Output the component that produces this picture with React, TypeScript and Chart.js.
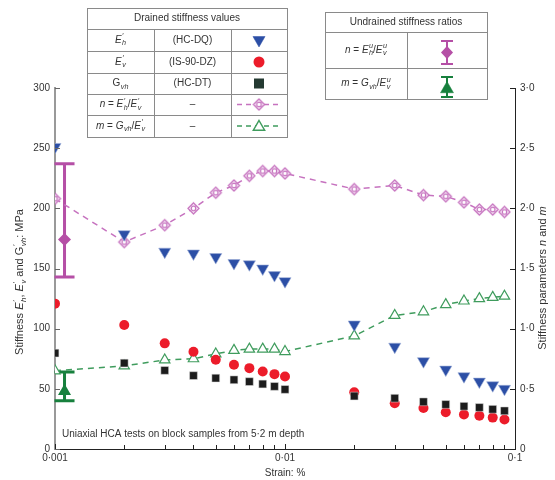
import React, { useEffect, useRef } from 'react';
import { Chart, registerables } from 'chart.js';
Chart.register(...registerables);

// ---- data ----
const strain = [0.001, 0.002, 0.003, 0.004, 0.005, 0.006, 0.007, 0.008, 0.009, 0.01, 0.02, 0.03, 0.04, 0.05, 0.06, 0.07, 0.08, 0.09];
const ehDrained = [251, 178.5, 164, 162.5, 159.5, 154.5, 153.5, 150, 144.5, 139.5, 103.5, 85, 73, 66, 60.5, 56, 53, 50];
const evDrained = [120.8, 103, 87.8, 80.8, 74.2, 70, 67.2, 64.4, 62.2, 60.3, 47.2, 38, 34, 30.6, 28.7, 27.6, 26.1, 24.5];
const gvhDrained = [79.7, 71.4, 65.3, 61, 58.9, 57.5, 56, 54, 52, 49.5, 44, 42.2, 39.2, 37, 35.5, 34.5, 33, 31.7];
const nDrained = [2.08, 1.72, 1.86, 2.0, 2.13, 2.19, 2.27, 2.31, 2.31, 2.29, 2.16, 2.19, 2.11, 2.1, 2.05, 1.99, 1.99, 1.97];
const mDrained = [0.65, 0.69, 0.74, 0.75, 0.79, 0.82, 0.83, 0.83, 0.83, 0.81, 0.94, 1.11, 1.14, 1.2, 1.23, 1.25, 1.26, 1.27];
const undrainedStrain = [0.0011];
const nUndrained = [1.74];
const nUndrainedRange = [1.43, 2.37];
const mUndrained = [0.48];
const mUndrainedRange = [0.4, 0.64];
const xTickLabels: Record<string, string> = { '0.001': '0·001', '0.01': '0·01', '0.1': '0·1' };
const yLeftTicks = [0, 50, 100, 150, 200, 250, 300];
const yRightTicks = [0, 0.5, 1, 1.5, 2, 2.5, 3];

const C_BLUE = '#2c4fa6';
const C_RED = '#ec1c2a';
const C_BLACK = '#1c1c1c';
const C_PINK = '#c672bf';
const C_GREEN = '#3f9c5d';
const C_MAG = '#b54fa6';
const C_DGREEN = '#17803d';
const FONT = '"Liberation Sans", Arial, sans-serif';

type Seg = { t: string; i?: boolean; sub?: string; sup?: string };

function drawRich(ctx: CanvasRenderingContext2D, segs: Seg[], x: number, y: number, size: number, color: string, align: 'center' | 'left' = 'center') {
  const f = (it: boolean | undefined, s: number) => `${it ? 'italic ' : ''}${s}px ${FONT}`;
  const small = size * 0.72;
  const widths = segs.map((s) => {
    ctx.font = f(s.i, size);
    let w = ctx.measureText(s.t).width;
    if (s.sub || s.sup) {
      ctx.font = f(true, small);
      w += Math.max(s.sub ? ctx.measureText(s.sub).width : 0, s.sup ? ctx.measureText(s.sup).width : 0) + 0.5;
    }
    return w;
  });
  const total = widths.reduce((a, b) => a + b, 0);
  let cx = align === 'center' ? x - total / 2 : x;
  ctx.save();
  ctx.fillStyle = color;
  ctx.textBaseline = 'middle';
  ctx.textAlign = 'left';
  segs.forEach((s, k) => {
    ctx.font = f(s.i, size);
    ctx.fillText(s.t, cx, y);
    const w0 = ctx.measureText(s.t).width;
    ctx.font = f(true, small);
    if (s.sup) ctx.fillText(s.sup, cx + w0 + 0.5, y - size * 0.38);
    if (s.sub) ctx.fillText(s.sub, cx + w0 + 0.5, y + size * 0.32);
    cx += widths[k];
  });
  ctx.restore();
}

function makeDiamondImg(color: string, r: number, fill: string): HTMLCanvasElement {
  const c = document.createElement('canvas');
  const s = Math.ceil(r * 2 + 4);
  c.width = s; c.height = s;
  const g = c.getContext('2d')!;
  const m = s / 2;
  g.strokeStyle = color; g.lineWidth = 1.3; g.fillStyle = fill;
  g.beginPath(); g.moveTo(m, m - r); g.lineTo(m + r, m); g.lineTo(m, m + r); g.lineTo(m - r, m); g.closePath();
  g.fill(); g.stroke();
  g.beginPath(); g.arc(m, m, r * 0.42, 0, Math.PI * 2); g.stroke();
  return c;
}

function drawTri(ctx: CanvasRenderingContext2D, x: number, y: number, r: number, down: boolean, fill: string | null, stroke: string, lw = 1.3) {
  const d = down ? -1 : 1;
  ctx.beginPath();
  ctx.moveTo(x, y - d * r);
  ctx.lineTo(x + r * 0.866, y + d * r * 0.5);
  ctx.lineTo(x - r * 0.866, y + d * r * 0.5);
  ctx.closePath();
  if (fill) { ctx.fillStyle = fill; ctx.fill(); }
  ctx.strokeStyle = stroke; ctx.lineWidth = lw; ctx.stroke();
}

function drawErrBar(ctx: CanvasRenderingContext2D, x: number, y1: number, y2: number, half: number, color: string, lw: number) {
  ctx.save();
  ctx.strokeStyle = color; ctx.lineWidth = lw;
  ctx.beginPath();
  ctx.moveTo(x, y1); ctx.lineTo(x, y2);
  ctx.moveTo(x - half, y1); ctx.lineTo(x + half, y1);
  ctx.moveTo(x - half, y2); ctx.lineTo(x + half, y2);
  ctx.stroke();
  ctx.restore();
}

const Eh: Seg[] = [{ t: 'E', i: true, sup: '′', sub: 'h' }];
const Ev: Seg[] = [{ t: 'E', i: true, sup: '′', sub: 'v' }];

const decoPlugin = {
  id: 'deco',
  beforeDatasetsDraw(chart: any) {
    const ctx: CanvasRenderingContext2D = chart.ctx;
    const x = chart.scales.x, y2 = chart.scales.y2;
    const px = x.getPixelForValue(undrainedStrain[0]);
    drawErrBar(ctx, px, y2.getPixelForValue(nUndrainedRange[0]), y2.getPixelForValue(nUndrainedRange[1]), 10, C_MAG, 3);
    drawErrBar(ctx, px, y2.getPixelForValue(mUndrainedRange[0]), y2.getPixelForValue(mUndrainedRange[1]), 10, C_DGREEN, 3);
  },
  afterDraw(chart: any) {
    const ctx: CanvasRenderingContext2D = chart.ctx;
    const { x, y, y2 } = chart.scales;
    const area = chart.chartArea;
    ctx.save();
    // inward ticks
    ctx.lineWidth = 1;
    ctx.strokeStyle = '#666';
    yLeftTicks.forEach((v) => {
      const py = Math.round(y.getPixelForValue(v)) + 0.5;
      ctx.beginPath(); ctx.moveTo(area.left, py); ctx.lineTo(area.left + 5, py); ctx.stroke();
    });
    ctx.strokeStyle = '#222';
    yRightTicks.forEach((v) => {
      const py = Math.round(y2.getPixelForValue(v)) + 0.5;
      ctx.beginPath(); ctx.moveTo(area.right, py); ctx.lineTo(area.right - 5, py); ctx.stroke();
    });
    [0.001, 0.01].forEach((d) => {
      for (let k = 1; k <= 9; k++) {
        const pxv = Math.round(x.getPixelForValue(k * d)) + 0.5;
        ctx.beginPath(); ctx.moveTo(pxv, area.bottom); ctx.lineTo(pxv, area.bottom - (k === 1 ? 5 : 4)); ctx.stroke();
      }
    });
    // axis titles
    ctx.save();
    ctx.translate(20, 282);
    ctx.rotate(-Math.PI / 2);
    drawRich(ctx, [{ t: 'Stiffness ' }, { t: 'E', i: true, sup: '′', sub: 'h' }, { t: ', ' }, { t: 'E', i: true, sup: '′', sub: 'v' }, { t: ' and G', sup: '′', sub: 'vh' }, { t: ': MPa' }], 0, 0, 11, '#333');
    ctx.restore();
    ctx.save();
    ctx.translate(543, 278);
    ctx.rotate(-Math.PI / 2);
    drawRich(ctx, [{ t: 'Stiffness parameters ' }, { t: 'n', i: true }, { t: ' and ' }, { t: 'm', i: true }], 0, 0, 11, '#333');
    ctx.restore();
    drawRich(ctx, [{ t: 'Strain: %' }], 285, 473, 10, '#333');
    drawRich(ctx, [{ t: 'Uniaxial HCA tests on block samples from 5·2 m depth' }], 62, 434, 10, '#333', 'left');

    // ---- drained legend table ----
    const L = 87, R = 287, c1 = 154, c2 = 231;
    const rows = [8, 29, 51, 73, 94, 115, 137];
    ctx.fillStyle = '#fff';
    ctx.fillRect(L, rows[0], R - L, rows[6] - rows[0]);
    ctx.strokeStyle = '#8a8a8a';
    ctx.lineWidth = 1;
    ctx.strokeRect(L + 0.5, rows[0] + 0.5, R - L, rows[6] - rows[0]);
    for (let k = 1; k < 6; k++) {
      ctx.beginPath(); ctx.moveTo(L, rows[k] + 0.5); ctx.lineTo(R, rows[k] + 0.5); ctx.stroke();
    }
    ctx.beginPath();
    ctx.moveTo(c1 + 0.5, rows[1]); ctx.lineTo(c1 + 0.5, rows[6]);
    ctx.moveTo(c2 + 0.5, rows[1]); ctx.lineTo(c2 + 0.5, rows[6]);
    ctx.stroke();
    const mid = (k: number) => (rows[k] + rows[k + 1]) / 2;
    const m1 = (L + c1) / 2, m2 = (c1 + c2) / 2, m3 = (c2 + R) / 2;
    drawRich(ctx, [{ t: 'Drained stiffness values' }], (L + R) / 2, mid(0), 10, '#333');
    drawRich(ctx, Eh, m1, mid(1), 10, '#333');
    drawRich(ctx, [{ t: '(HC-DQ)' }], m2, mid(1), 10, '#333');
    drawRich(ctx, Ev, m1, mid(2), 10, '#333');
    drawRich(ctx, [{ t: '(IS-90-DZ)' }], m2, mid(2), 10, '#333');
    drawRich(ctx, [{ t: 'G', sub: 'vh' }], m1, mid(3), 10, '#333');
    drawRich(ctx, [{ t: '(HC-DT)' }], m2, mid(3), 10, '#333');
    drawRich(ctx, [{ t: 'n', i: true }, { t: ' = ' }, { t: 'E', i: true, sup: '′', sub: 'h' }, { t: '/' }, { t: 'E', i: true, sup: '′', sub: 'v' }], m1, mid(4), 10, '#333');
    drawRich(ctx, [{ t: '–' }], m2, mid(4), 10, '#333');
    drawRich(ctx, [{ t: 'm', i: true }, { t: ' = ' }, { t: 'G', i: true, sub: 'vh' }, { t: '/' }, { t: 'E', i: true, sup: '′', sub: 'v' }], m1, mid(5), 10, '#333');
    drawRich(ctx, [{ t: '–' }], m2, mid(5), 10, '#333');
    // markers
    drawTri(ctx, m3, mid(1), 7, true, C_BLUE, C_BLUE, 0.5);
    ctx.beginPath(); ctx.arc(m3, mid(2), 5.5, 0, Math.PI * 2); ctx.fillStyle = C_RED; ctx.fill();
    ctx.fillStyle = '#253a32'; ctx.fillRect(m3 - 5, mid(3) - 5, 10, 10);
    ctx.lineWidth = 1.5; ctx.setLineDash([5, 4]);
    ctx.strokeStyle = C_PINK;
    ctx.beginPath(); ctx.moveTo(m3 - 22, mid(4)); ctx.lineTo(m3 + 22, mid(4)); ctx.stroke();
    ctx.strokeStyle = C_GREEN;
    ctx.beginPath(); ctx.moveTo(m3 - 22, mid(5)); ctx.lineTo(m3 + 22, mid(5)); ctx.stroke();
    ctx.setLineDash([]);
    const dimg = makeDiamondImg(C_PINK, 5.5, '#fff');
    ctx.drawImage(dimg, m3 - dimg.width / 2, mid(4) - dimg.height / 2);
    drawTri(ctx, m3, mid(5) + 1, 6.5, false, '#fff', C_GREEN, 1.5);

    // ---- undrained legend table ----
    const L2 = 325, R2 = 487, cc = 407;
    const rr = [12, 32, 68, 99];
    ctx.fillStyle = '#fff';
    ctx.fillRect(L2, rr[0], R2 - L2, rr[3] - rr[0]);
    ctx.strokeStyle = '#8a8a8a'; ctx.lineWidth = 1;
    ctx.strokeRect(L2 + 0.5, rr[0] + 0.5, R2 - L2, rr[3] - rr[0]);
    ctx.beginPath();
    ctx.moveTo(L2, rr[1] + 0.5); ctx.lineTo(R2, rr[1] + 0.5);
    ctx.moveTo(L2, rr[2] + 0.5); ctx.lineTo(R2, rr[2] + 0.5);
    ctx.moveTo(cc + 0.5, rr[1]); ctx.lineTo(cc + 0.5, rr[3]);
    ctx.stroke();
    const u1 = (L2 + cc) / 2, u2 = (cc + R2) / 2;
    drawRich(ctx, [{ t: 'Undrained stiffness ratios' }], (L2 + R2) / 2, (rr[0] + rr[1]) / 2, 10, '#333');
    drawRich(ctx, [{ t: 'n', i: true }, { t: ' = ' }, { t: 'E', i: true, sup: 'u', sub: 'h' }, { t: '/' }, { t: 'E', i: true, sup: 'u', sub: 'v' }], u1, (rr[1] + rr[2]) / 2, 10, '#333');
    drawRich(ctx, [{ t: 'm', i: true }, { t: ' = ' }, { t: 'G', i: true, sub: 'vh' }, { t: '/' }, { t: 'E', i: true, sup: 'u', sub: 'v' }], u1, (rr[2] + rr[3]) / 2, 10, '#333');
    drawErrBar(ctx, u2, 41, 64, 6, C_MAG, 2);
    ctx.fillStyle = C_MAG;
    ctx.beginPath(); ctx.moveTo(u2, 46); ctx.lineTo(u2 + 6, 52.5); ctx.lineTo(u2, 59); ctx.lineTo(u2 - 6, 52.5); ctx.closePath(); ctx.fill();
    drawErrBar(ctx, u2, 77, 97, 6, C_DGREEN, 2);
    drawTri(ctx, u2, 89, 7.5, false, C_DGREEN, C_DGREEN, 0.5);
    ctx.restore();
  },
};

export default function App() {
  const ref = useRef<HTMLCanvasElement>(null);
  useEffect(() => {
    document.body.style.margin = '0';
    const pt = (arr: number[]) => strain.map((s, i) => ({ x: s, y: arr[i] }));
    const nImg = makeDiamondImg(C_PINK, 5.5, '#fff');
    const chart = new Chart(ref.current!, {
      type: 'line',
      data: {
        datasets: [
          {
            label: 'n', data: pt(nDrained), yAxisID: 'y2', borderColor: C_PINK, borderWidth: 1.5, borderDash: [6, 5],
            pointStyle: nImg as any, pointRadius: 6, order: 5,
          },
          {
            label: 'm', data: pt(mDrained), yAxisID: 'y2', borderColor: C_GREEN, borderWidth: 1.5, borderDash: [6, 5],
            pointStyle: 'triangle', pointRadius: 6, pointBackgroundColor: '#fff', pointBorderColor: C_GREEN, pointBorderWidth: 1.2, order: 4,
          },
          {
            label: "E'v", data: pt(evDrained), yAxisID: 'y', showLine: false,
            pointStyle: 'circle', pointRadius: 5, pointBackgroundColor: C_RED, pointBorderColor: C_RED, pointBorderWidth: 0, order: 3,
          },
          {
            label: 'Gvh', data: pt(gvhDrained), yAxisID: 'y', showLine: false,
            pointStyle: 'rect', pointRadius: 5.5, pointBackgroundColor: C_BLACK, pointBorderColor: '#ddd', pointBorderWidth: 0.5, order: 2,
          },
          {
            label: "E'h", data: pt(ehDrained), yAxisID: 'y', showLine: false,
            pointStyle: 'triangle', rotation: 180, pointRadius: 7, pointBackgroundColor: C_BLUE, pointBorderColor: '#9fb0d8', pointBorderWidth: 0.6, order: 1,
          },
          {
            label: 'n undrained', data: undrainedStrain.map((s, i) => ({ x: s, y: nUndrained[i] })), yAxisID: 'y2', showLine: false,
            pointStyle: 'rectRot', pointRadius: 6.5, pointBackgroundColor: C_MAG, pointBorderColor: C_MAG, pointBorderWidth: 0, order: 0,
          },
          {
            label: 'm undrained', data: undrainedStrain.map((s, i) => ({ x: s, y: mUndrained[i] })), yAxisID: 'y2', showLine: false,
            pointStyle: 'triangle', pointRadius: 7.5, pointBackgroundColor: C_DGREEN, pointBorderColor: C_DGREEN, pointBorderWidth: 0, order: 0,
          },
        ],
      },
      options: {
        responsive: false,
        animation: false,
        events: [],
        layout: { padding: { top: 88, left: 0, right: 0, bottom: 0 } },
        plugins: { legend: { display: false }, tooltip: { enabled: false }, title: { display: false } },
        scales: {
          x: {
            type: 'logarithmic', min: 0.001, max: 0.1,
            grid: { display: false, drawTicks: false },
            border: { display: true, color: '#222', width: 1 },
            ticks: {
              autoSkip: false, maxRotation: 0, padding: 3, color: '#333', font: { size: 10, family: FONT },
              callback: (v: any) => xTickLabels[String(Number(v))] ?? '',
            },
            afterFit: (s: any) => { s.height = 31; },
          },
          y: {
            type: 'linear', position: 'left', min: 0, max: 300,
            grid: { display: false, drawTicks: false },
            border: { display: true, color: '#999', width: 2 },
            ticks: { stepSize: 50, padding: 5, color: '#333', font: { size: 10, family: FONT } },
            afterFit: (s: any) => { s.width = 55; },
          },
          y2: {
            type: 'linear', position: 'right', min: 0, max: 3,
            grid: { display: false, drawTicks: false },
            border: { display: true, color: '#222', width: 1 },
            ticks: { stepSize: 0.5, padding: 5, color: '#333', font: { size: 10, family: FONT }, callback: (v: any) => (Number(v) === 0 ? '0' : Number(v).toFixed(1).replace('.', '·')) },
            afterFit: (s: any) => { s.width = 40; },
          },
        },
      },
      plugins: [decoPlugin],
    });
    return () => chart.destroy();
  }, []);
  return (
    <div style={{ width: 555, height: 480 }}>
      <canvas ref={ref} width={555} height={480} style={{ display: 'block' }} />
    </div>
  );
}
